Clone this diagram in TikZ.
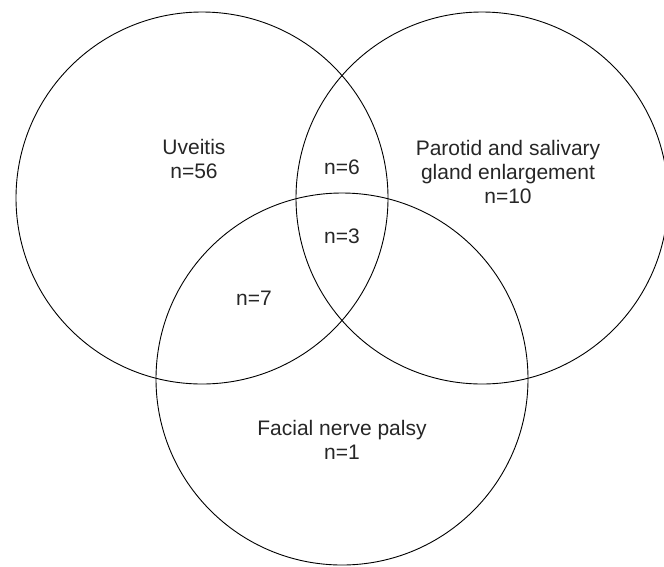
\documentclass[tikz,border=0pt]{standalone}
\usepackage{fontspec}
\setmainfont{Liberation Sans}
\usetikzlibrary{positioning}

\begin{document}
\begin{tikzpicture}[x=1pt, y=-1pt,
	setcircle/.style={circle, draw=black!100, line width=0.9pt, minimum size=372pt, inner sep=0pt},
	setlabel/.style={rectangle, align=center, text=black!85, inner sep=0pt, font=\fontsize{21}{24}\selectfont}
	]
	\useasboundingbox (0,0) rectangle (664,566);
	% the three sets
	\node[setcircle] (uveitis) at (202,198) {};
	\node[setcircle] (parotid) at (482,198) {};
	\node[setcircle] (facial) at (342,379) {};
	% counts
	\node[setlabel] (uveitislabel) at (194,159) {Uveitis\\n=56};
	\node[setlabel] (parotidlabel) at (508,172) {Parotid and salivary\\gland enlargement\\n=10};
	\node[setlabel] (faciallabel) at (342,440) {Facial nerve palsy\\n=1};
	\node[setlabel] (uvpar) at (342,167) {n=6};
	\node[setlabel] (allthree) at (342,236) {n=3};
	\node[setlabel] (uvfac) at (254,298) {n=7};
\end{tikzpicture}
\end{document}
